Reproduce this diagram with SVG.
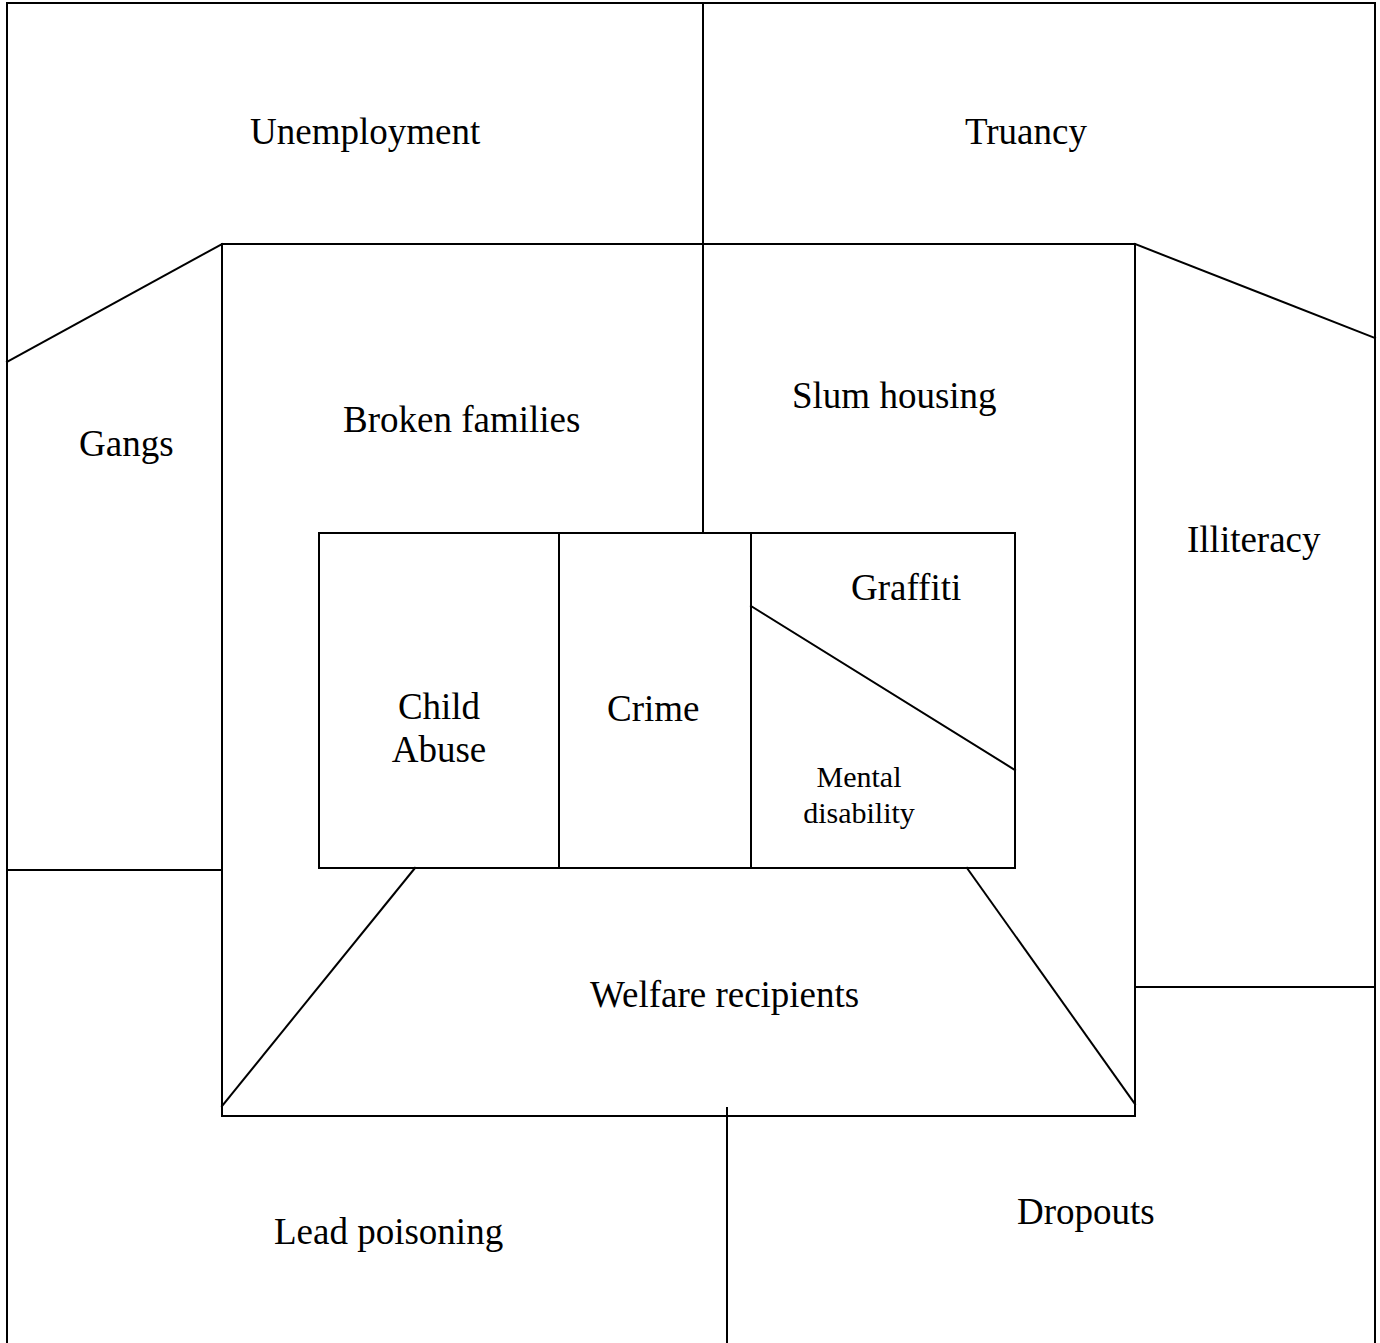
<svg xmlns="http://www.w3.org/2000/svg" width="1380" height="1343" viewBox="0 0 1380 1343">
<style>
.ln{stroke:#000;stroke-width:2;fill:none;stroke-linecap:square}
.t{font-family:"Liberation Serif","Times New Roman",serif;font-size:37px;fill:#000}
.s{font-size:30px}
</style>
<rect width="1380" height="1343" fill="#fff"/>
<g id="lines">
<path class="ln" d="M7,1343 V3 H1375 V1343"/>
<path class="ln" d="M703,3 V533"/>
<path class="ln" d="M7,362 L222,244"/>
<path class="ln" d="M1135,244 L1375,338"/>
<path class="ln" d="M7,870 H222"/>
<path class="ln" d="M1135,987 H1375"/>
<rect class="ln" x="222" y="244" width="913" height="872"/>
<rect class="ln" x="319" y="533" width="696" height="335"/>
<path class="ln" d="M559,533 V868"/>
<path class="ln" d="M751,533 V868"/>
<path class="ln" d="M751,606 L1015,770"/>
<path class="ln" d="M415,868 L222,1106"/>
<path class="ln" d="M967,868 L1135,1104"/>
<path class="ln" d="M727,1108 V1343"/>
</g>
<g id="unemployment"><text class="t" x="250" y="144">Unemployment</text></g>
<g id="truancy"><text class="t" x="965" y="144">Truancy</text></g>
<g id="gangs"><text class="t" x="79" y="456">Gangs</text></g>
<g id="broken-families"><text class="t" x="343" y="432">Broken families</text></g>
<g id="slum-housing"><text class="t" x="792" y="408">Slum housing</text></g>
<g id="illiteracy"><text class="t" x="1187" y="552">Illiteracy</text></g>
<g id="graffiti"><text class="t" x="851" y="600">Graffiti</text></g>
<g id="child-abuse"><text class="t" x="439" y="719" text-anchor="middle">Child</text><text class="t" x="439" y="762" text-anchor="middle">Abuse</text></g>
<g id="crime"><text class="t" x="607" y="721">Crime</text></g>
<g id="mental-disability"><text class="t s" x="859" y="787" text-anchor="middle">Mental</text><text class="t s" x="859" y="823" text-anchor="middle">disability</text></g>
<g id="welfare"><text class="t" x="590" y="1007">Welfare recipients</text></g>
<g id="lead"><text class="t" x="274" y="1244">Lead poisoning</text></g>
<g id="dropouts"><text class="t" x="1017" y="1224">Dropouts</text></g>
</svg>
